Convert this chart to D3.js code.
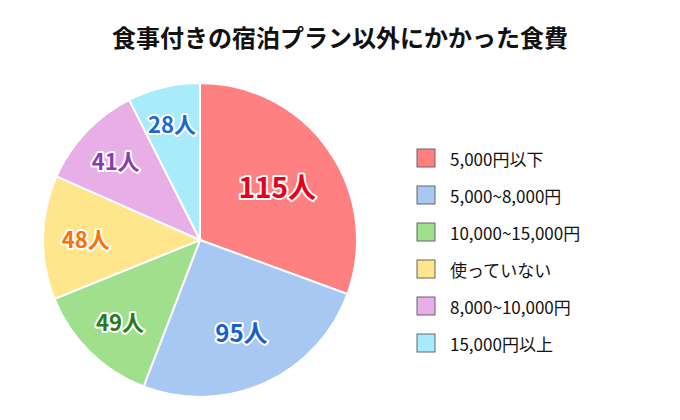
<!DOCTYPE html>
<html><head><meta charset="utf-8">
<script src="https://cdn.jsdelivr.net/npm/d3@7"></script>
<style>body{margin:0;background:#fff}</style></head>
<body><svg id="c" width="680" height="420"></svg>
<script>
const categories = ["5,000円以下","5,000~8,000円","10,000~15,000円","使っていない","8,000~10,000円","15,000円以上"];
const values = [115,95,49,48,41,28];
const fills = ["#ff8080","#a8c8f4","#a0df8c","#ffe68c","#e8aee8","#a8ecfc"];
const labelColors = ["#e60020","#1a5fd0","#2a7a18","#ff7000","#8c3aae","#1a6ad0"];
const unit = "人";
const svg = d3.select("#c");
const font = "'Noto Sans CJK JP','Noto Sans',sans-serif";
svg.append("text").attr("x",340).attr("y",47).attr("text-anchor","middle")
  .attr("font-family",font).attr("font-weight","bold").attr("font-size",24).attr("fill","#111")
  .text("食事付きの宿泊プラン以外にかかった食費");
const cx=200, cy=240, r=157;
const g = svg.append("g").attr("transform",`translate(${cx},${cy})`);
const arcs = d3.pie().sort(null)(values);
const arc = d3.arc().innerRadius(0).outerRadius(r);
const maxV = d3.max(values);
const pos = d=>{const lr=r*(0.6+0.22*(1-d.value/maxV)); return d3.arc().innerRadius(lr).outerRadius(lr).centroid(d);};
g.selectAll("path").data(arcs).join("path").attr("d",arc)
  .attr("fill",(d,i)=>fills[i]).attr("stroke","#fff").attr("stroke-width",2);
g.selectAll("text").data(arcs).join("text")
  .attr("transform",d=>`translate(${pos(d)})`)
  .attr("text-anchor","middle").attr("dominant-baseline","central")
  .attr("font-family",font).attr("font-weight","bold")
  .attr("font-size",(d,i)=>i==0?28:i==1?24:22)
  .attr("fill",(d,i)=>labelColors[i]).attr("stroke","#fff").attr("stroke-width",4)
  .attr("paint-order","stroke").attr("stroke-linejoin","round")
  .text(d=>d.value+unit);
const lg = svg.append("g");
const y = d3.scalePoint().domain(categories).range([158,343]);
categories.forEach((c,i)=>{
  lg.append("rect").attr("x",417).attr("y",y(c)-9).attr("width",18).attr("height",18)
    .attr("fill",fills[i]).attr("stroke","#666").attr("stroke-width",1);
  lg.append("text").attr("x",450).attr("y",y(c)).attr("dominant-baseline","central")
    .attr("font-family",font).attr("font-size",17).attr("fill","#111").text(c);
});
</script></body></html>
